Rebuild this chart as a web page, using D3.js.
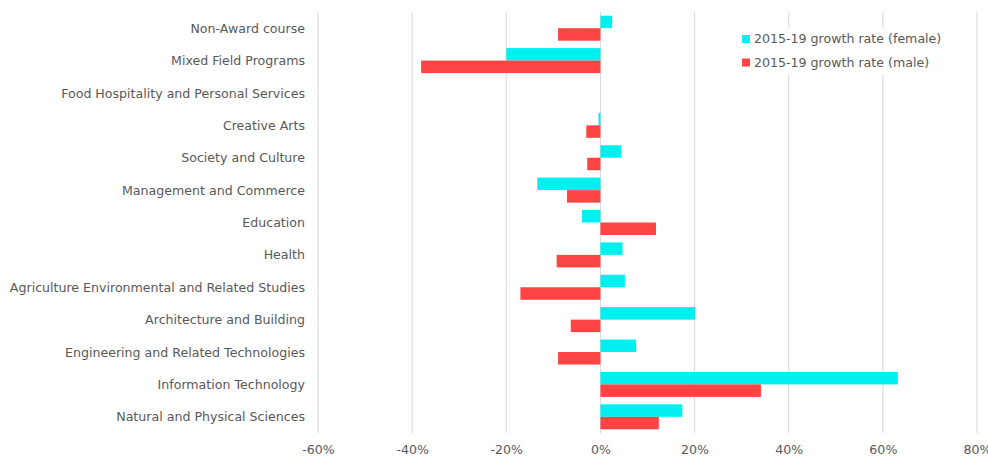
<!DOCTYPE html>
<html>
<head>
<meta charset="utf-8">
<script src="https://cdn.jsdelivr.net/npm/d3@7"></script>
<style>
  body { margin: 0; background: #fff; }
  svg { display: block; font-family: "DejaVu Sans", Verdana, sans-serif; }
</style>
</head>
<body>
<svg id="chart" width="988" height="457"></svg>
<script>
// Chart data (values in %)
const categories = [
    "Non-Award course",
    "Mixed Field Programs",
    "Food Hospitality and Personal Services",
    "Creative Arts",
    "Society and Culture",
    "Management and Commerce",
    "Education",
    "Health",
    "Agriculture Environmental and Related Studies",
    "Architecture and Building",
    "Engineering and Related Technologies",
    "Information Technology",
    "Natural and Physical Sciences"
];
const femaleGrowth = [2.5, -20.0, 0, -0.4, 4.4, -13.4, -3.9, 4.7, 5.2, 20.1, 7.6, 63.2, 17.4];
const maleGrowth = [-9.0, -38.1, 0, -3.0, -2.8, -7.1, 11.8, -9.3, -17.0, -6.3, -9.0, 34.1, 12.4];
const seriesNames = ["2015-19 growth rate (female)", "2015-19 growth rate (male)"];
const tickValues = [-60, -40, -20, 0, 20, 40, 60, 80];

const colors = ["#00f0f0", "#ff4444"];
const textColor = "#595959";
const fontSize = 12.6;

const svg = d3.select("#chart");
const plotLeft = 318, plotRight = 977, plotTop = 12, plotBottom = 433;

const x = d3.scaleLinear().domain([-60, 80]).range([plotLeft, plotRight]);
const y = d3.scaleBand().domain(categories).range([plotTop, plotBottom]).paddingInner(0).paddingOuter(0);
const barH = 12.5;

// gridlines
svg.append("g")
    .selectAll("line")
    .data(tickValues)
    .join("line")
    .attr("x1", d => x(d)).attr("x2", d => x(d))
    .attr("y1", plotTop).attr("y2", plotBottom)
    .attr("stroke", "#d9d9d9")
    .attr("stroke-width", 1);

// bars
const series = [femaleGrowth, maleGrowth];
series.forEach((vals, s) => {
    svg.append("g")
        .selectAll("rect")
        .data(vals)
        .join("rect")
        .attr("x", d => x(Math.min(0, d)))
        .attr("width", d => Math.abs(x(d) - x(0)))
        .attr("y", (d, i) => y(categories[i]) + y.bandwidth() / 2 - barH + s * barH)
        .attr("height", barH)
        .attr("fill", colors[s]);
});

// x axis labels
const xAxis = d3.axisBottom(x).tickValues(tickValues).tickFormat(d => d + "%").tickSize(0).tickPadding(0);
const gx = svg.append("g").attr("transform", `translate(0,${plotBottom + 12})`).call(xAxis);
gx.select(".domain").remove();
gx.selectAll("text")
    .attr("fill", textColor)
    .attr("font-size", fontSize)
    .attr("font-family", "DejaVu Sans, Verdana, sans-serif");

// y axis labels
const yAxis = d3.axisLeft(y).tickSize(0).tickPadding(0);
const gy = svg.append("g").attr("transform", `translate(${plotLeft - 13},0.5)`).call(yAxis);
gy.select(".domain").remove();
gy.selectAll("text")
    .attr("fill", textColor)
    .attr("font-size", fontSize)
    .attr("font-family", "DejaVu Sans, Verdana, sans-serif");

// legend
const legend = svg.append("g").attr("transform", "translate(738,28)");
legend.append("rect")
    .attr("x", 0).attr("y", 0)
    .attr("width", 215).attr("height", 46)
    .attr("fill", "#fff");
seriesNames.forEach((name, i) => {
    const row = legend.append("g").attr("transform", `translate(0,${11 + i * 23.5})`);
    row.append("rect")
        .attr("x", 4).attr("y", -4)
        .attr("width", 8).attr("height", 8)
        .attr("fill", colors[i]);
    row.append("text")
        .attr("x", 16).attr("y", 0)
        .attr("dy", "0.35em")
        .attr("font-size", fontSize)
        .attr("fill", textColor)
        .text(name);
});
</script>
</body>
</html>
